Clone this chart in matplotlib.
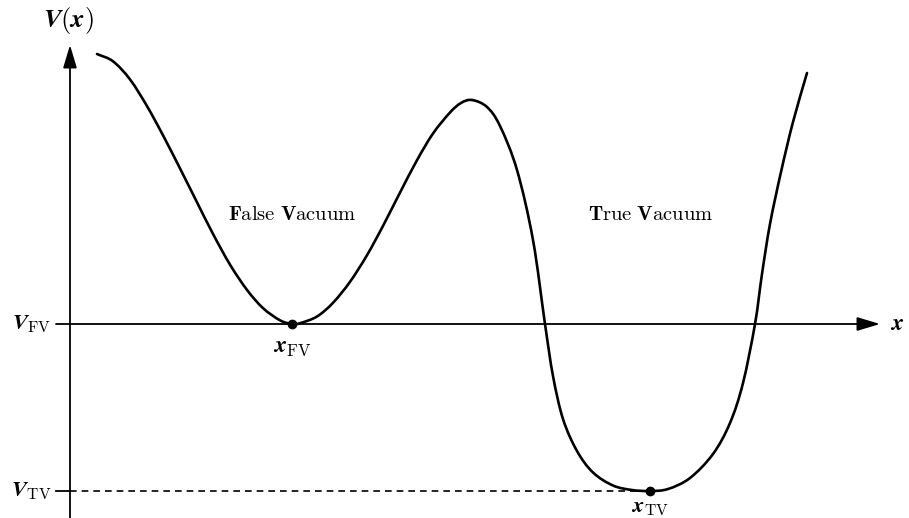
import matplotlib
matplotlib.use("Agg")
import matplotlib.pyplot as plt
from matplotlib.path import Path
from matplotlib.patches import PathPatch
import numpy as np

plt.rcParams['mathtext.fontset'] = 'cm'
plt.rcParams['font.family'] = ['DejaVu Serif']

# potential V(x), points
x_pts = [0.27, 0.43, 0.60, 0.77, 0.93, 1.10, 1.27, 1.43, 1.60, 1.77, 1.93, 2.10, 2.22,
         2.30, 2.47, 2.63, 2.80, 2.97, 3.13, 3.30, 3.47, 3.63, 3.80, 3.91, 4.02,
         4.17, 4.30, 4.47, 4.63, 4.75, 4.83, 4.93, 5.07, 5.23, 5.43, 5.62, 5.80,
         5.98, 6.20, 6.43, 6.60, 6.73, 6.85, 6.92, 7.00, 7.11, 7.23, 7.37]
v_pts = [2.70, 2.627, 2.446, 2.179, 1.887, 1.556, 1.217, 0.901, 0.594, 0.341, 0.159, 0.037, 0.00,
         0.008, 0.075, 0.212, 0.422, 0.688, 0.981, 1.314, 1.638, 1.905, 2.115, 2.21, 2.24,
         2.17, 1.98, 1.54, 0.84, 0.00, -0.52, -0.95, -1.27, -1.485, -1.615, -1.66, -1.67,
         -1.65, -1.54, -1.30, -0.99, -0.59, 0.00, 0.50, 1.00, 1.52, 2.02, 2.51]

x_fv, v_fv = 2.22, 0.0
x_tv, v_tv = 5.80, -1.67


def smooth_path(xs, ys):
    # Catmull-Rom through the points, as cubic Bezier segments
    p = np.column_stack([xs, ys])
    p = np.vstack([2 * p[0] - p[1], p, 2 * p[-1] - p[-2]])
    verts = [p[1]]
    codes = [Path.MOVETO]
    for i in range(1, len(p) - 2):
        c1 = p[i] + (p[i + 1] - p[i - 1]) / 6
        c2 = p[i + 1] - (p[i + 2] - p[i]) / 6
        verts += [c1, c2, p[i + 1]]
        codes += [Path.CURVE4] * 3
    return Path(verts, codes)


fig = plt.figure(figsize=(9.09, 5.18), dpi=100)
ax = fig.add_axes([0, 0, 1, 1])
ax.set_xlim(-0.70, 8.39)
ax.set_ylim(-1.94, 3.24)
ax.axis('off')

# axes with arrow heads
arw = dict(arrowstyle='-|>,head_length=1.4,head_width=0.42', lw=1.3, color='k',
           shrinkA=0, shrinkB=0)
ax.annotate('', xy=(8.10, 0), xytext=(-0.14, 0), arrowprops=arw)
ax.annotate('', xy=(0, 2.79), xytext=(0, -1.94), arrowprops=arw)

# V_TV tick and dashed level
ax.plot([-0.14, 0], [v_tv, v_tv], color='k', lw=1.3)
ax.plot([0, x_tv], [v_tv, v_tv], color='k', lw=1.2, ls=(0, (4, 3)))

ax.add_patch(PathPatch(smooth_path(x_pts, v_pts), fill=False, color='k', lw=1.9,
                       capstyle='round', zorder=3))
ax.plot([x_fv, x_tv], [v_fv, v_tv], 'o', color='k', ms=6, zorder=4)

fs = 17
ax.text(-0.02, 3.03, r'$\mathbfit{V}\mathbf{(}\mathbfit{x}\mathbf{)}$', fontsize=19,
        ha='center', va='center')
ax.text(8.20, 0, r'$\mathbfit{x}$', fontsize=fs, ha='left', va='center')
ax.text(-0.19, v_fv, r'$\mathbfit{V}_{\mathrm{FV}}$', fontsize=16, ha='right', va='center')
ax.text(-0.19, v_tv, r'$\mathbfit{V}_{\mathrm{TV}}$', fontsize=16, ha='right', va='center')
ax.text(x_fv, -0.22, r'$\mathbfit{x}_{\mathrm{FV}}$', fontsize=fs, ha='center', va='center')
ax.text(x_tv, -1.83, r'$\mathbfit{x}_{\mathrm{TV}}$', fontsize=16, ha='center', va='center')

ax.text(2.22, 1.09, r'$\mathbf{F}\mathrm{alse}\ \mathbf{V}\mathrm{acuum}$', fontsize=14.8,
        ha='center', va='center')
ax.text(5.81, 1.09, r'$\mathbf{T}\mathrm{rue}\ \mathbf{V}\mathrm{acuum}$', fontsize=14.8,
        ha='center', va='center')

fig.savefig('out.png', dpi=100)
